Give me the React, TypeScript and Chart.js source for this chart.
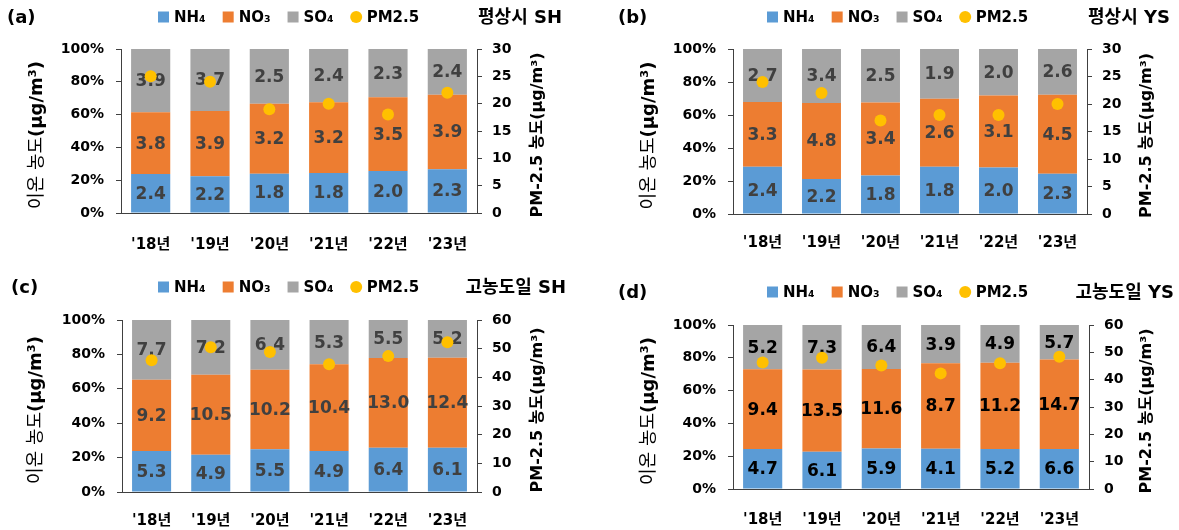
import { useEffect, useRef } from "react";
import { Chart, registerables } from "chart.js";

Chart.register(...registerables);

// ---- data ----
const YEARS = ["'18년", "'19년", "'20년", "'21년", "'22년", "'23년"];

// (a) 평상시 SH
const NH4_A = [2.4, 2.2, 1.8, 1.8, 2.0, 2.3];
const NO3_A = [3.8, 3.9, 3.2, 3.2, 3.5, 3.9];
const SO4_A = [3.9, 3.7, 2.5, 2.4, 2.3, 2.4];
const PM_A = [25.0, 24.0, 19.0, 20.0, 18.0, 22.0];

// (b) 평상시 YS
const NH4_B = [2.4, 2.2, 1.8, 1.8, 2.0, 2.3];
const NO3_B = [3.3, 4.8, 3.4, 2.6, 3.1, 4.5];
const SO4_B = [2.7, 3.4, 2.5, 1.9, 2.0, 2.6];
const PM_B = [24.0, 22.0, 17.0, 18.0, 18.0, 20.0];

// (c) 고농도일 SH
const NH4_C = [5.3, 4.9, 5.5, 4.9, 6.4, 6.1];
const NO3_C = [9.2, 10.5, 10.2, 10.4, 13.0, 12.4];
const SO4_C = [7.7, 7.2, 6.4, 5.3, 5.5, 5.2];
const PM_C = [46.0, 50.5, 48.8, 44.6, 47.4, 52.2];

// (d) 고농도일 YS
const NH4_D = [4.7, 6.1, 5.9, 4.1, 5.2, 6.6];
const NO3_D = [9.4, 13.5, 11.6, 8.7, 11.2, 14.7];
const SO4_D = [5.2, 7.3, 6.4, 3.9, 4.9, 5.7];
const PM_D = [46.3, 48.0, 45.2, 42.3, 46.0, 48.4];

const SERIES_NAMES = ["NH₄", "NO₃", "SO₄"];
const PM_NAME = "PM2.5";
// left axis title: word part in regular weight, unit part in bold
const LEFT_TITLE_WORD = "이온 농도";
const LEFT_TITLE_UNIT = "(μg/m³)";
const RIGHT_TITLE = "PM-2.5 농도(μg/m³)";

// ---- styling ----
const COLORS = ["#5B9BD5", "#ED7D31", "#A5A5A5"];
const PM_COLOR = "#FFC000";
const AXIS_COLOR = "#404040";
const FONT = '"DejaVu Sans", "Noto Sans CJK KR", sans-serif';

type Area = { left: number; right: number; top: number; bottom: number };

type Panel = {
  tag: string;
  title: string;
  nh4: number[];
  no3: number[];
  so4: number[];
  pm: number[];
  pmMax: number;
  pmStep: number;
  labelColor: string;
  x: number;
  y: number;
  width: number;
  height: number;
  area: Area;
  headerY: number;
  tagX: number;
  legendX: number;
  titleRight: number;
  leftTitleX: number;
  rightTitleX: number;
  xLabelPad: number;
};

const PANELS: Panel[] = [
  {
    tag: "(a)", title: "평상시 SH",
    nh4: NH4_A, no3: NO3_A, so4: SO4_A, pm: PM_A, pmMax: 30, pmStep: 5,
    labelColor: "#404040",
    x: 0, y: 0, width: 590, height: 265,
    area: { left: 121, right: 477, top: 49, bottom: 213 },
    headerY: 17, tagX: 7, legendX: 158, titleRight: 562,
    leftTitleX: 37, rightTitleX: 538, xLabelPad: 23,
  },
  {
    tag: "(b)", title: "평상시 YS",
    nh4: NH4_B, no3: NO3_B, so4: SO4_B, pm: PM_B, pmMax: 30, pmStep: 5,
    labelColor: "#404040",
    x: 590, y: 0, width: 589, height: 265,
    area: { left: 143, right: 497, top: 49, bottom: 214 },
    headerY: 17, tagX: 28, legendX: 177, titleRight: 580,
    leftTitleX: 59, rightTitleX: 557, xLabelPad: 20,
  },
  {
    tag: "(c)", title: "고농도일 SH",
    nh4: NH4_C, no3: NO3_C, so4: SO4_C, pm: PM_C, pmMax: 60, pmStep: 10,
    labelColor: "#404040",
    x: 0, y: 265, width: 590, height: 265,
    area: { left: 122, right: 477, top: 55, bottom: 227 },
    headerY: 22, tagX: 11, legendX: 158, titleRight: 566,
    leftTitleX: 36, rightTitleX: 538, xLabelPad: 20,
  },
  {
    tag: "(d)", title: "고농도일 YS",
    nh4: NH4_D, no3: NO3_D, so4: SO4_D, pm: PM_D, pmMax: 60, pmStep: 10,
    labelColor: "#000000",
    x: 590, y: 265, width: 589, height: 265,
    area: { left: 143, right: 499, top: 60, bottom: 224 },
    headerY: 27, tagX: 28, legendX: 177, titleRight: 584,
    leftTitleX: 59, rightTitleX: 557, xLabelPad: 22,
  },
];

const Y_LEFT_WIDTH = 72;
const Y_RIGHT_WIDTH = 42;

function shares(p: Panel, s: number[]): number[] {
  return s.map((v, i) => (v / (p.nh4[i] + p.no3[i] + p.so4[i])) * 100);
}

function font(size: number, weight = "bold") {
  return `${weight} ${size}px ${FONT}`;
}

// vertical text reading bottom-to-top, made of runs with their own fonts
function drawRotated(
  ctx: CanvasRenderingContext2D,
  runs: { text: string; font: string }[],
  cx: number,
  cy: number,
) {
  ctx.save();
  ctx.translate(cx, cy);
  ctx.rotate(-Math.PI / 2);
  ctx.fillStyle = "#000";
  ctx.textAlign = "left";
  ctx.textBaseline = "middle";
  const widths = runs.map((r) => {
    ctx.font = r.font;
    return ctx.measureText(r.text).width;
  });
  let x = -widths.reduce((a, b) => a + b, 0) / 2;
  runs.forEach((r, i) => {
    ctx.font = r.font;
    ctx.fillText(r.text, x, 0);
    x += widths[i];
  });
  ctx.restore();
}

function makePlugin(p: Panel) {
  const raw = [p.nh4, p.no3, p.so4];
  return {
    id: "panelDecor",
    // value labels go on the bars, under the PM2.5 markers
    beforeDatasetDraw(chart: any, args: any) {
      if (args.index !== 3) return;
      const ctx: CanvasRenderingContext2D = chart.ctx;
      ctx.save();
      ctx.font = font(17);
      ctx.fillStyle = p.labelColor;
      ctx.textAlign = "center";
      ctx.textBaseline = "middle";
      for (let d = 0; d < 3; d++) {
        const meta = chart.getDatasetMeta(d);
        meta.data.forEach((bar: any, i: number) => {
          const { x, y, base } = bar.getProps(["x", "y", "base"], true);
          ctx.fillText(raw[d][i].toFixed(1), x, (y + base) / 2 + 1);
        });
      }
      ctx.restore();
    },
    afterDraw(chart: any) {
      const ctx: CanvasRenderingContext2D = chart.ctx;
      const ca = chart.chartArea;
      ctx.save();
      // panel tag
      ctx.font = font(18);
      ctx.fillStyle = "#000";
      ctx.textAlign = "left";
      ctx.textBaseline = "middle";
      ctx.fillText(p.tag, p.tagX, p.headerY + 1);

      // legend
      let lx = p.legendX;
      const ly = p.headerY;
      ctx.font = font(15);
      const items = [
        ...SERIES_NAMES.map((n, i) => ({ name: n, color: COLORS[i], dot: false })),
        { name: PM_NAME, color: PM_COLOR, dot: true },
      ];
      items.forEach((it) => {
        ctx.fillStyle = it.color;
        if (it.dot) {
          ctx.beginPath();
          ctx.arc(lx + 5.5, ly, 6, 0, Math.PI * 2);
          ctx.fill();
        } else {
          ctx.fillRect(lx, ly - 5.5, 11, 11);
        }
        lx += 16;
        ctx.fillStyle = "#000";
        ctx.fillText(it.name, lx, ly + 1);
        lx += ctx.measureText(it.name).width + 17;
      });

      // panel title
      ctx.font = font(18);
      ctx.textAlign = "right";
      ctx.fillText(p.title, p.titleRight, p.headerY + 1);
      ctx.restore();

      // axis titles
      const cy = (ca.top + ca.bottom) / 2 + 4;
      drawRotated(
        ctx,
        [
          { text: LEFT_TITLE_WORD, font: font(18, "normal") },
          { text: LEFT_TITLE_UNIT, font: font(18) },
        ],
        p.leftTitleX,
        cy,
      );
      drawRotated(ctx, [{ text: RIGHT_TITLE, font: font(16) }], p.rightTitleX, cy);
    },
  };
}

function PanelChart({ p }: { p: Panel }) {
  const ref = useRef<HTMLCanvasElement | null>(null);

  useEffect(() => {
    if (!ref.current) return;
    const tickFont = { family: FONT, size: 14, weight: "bold" as const };
    const xHeight = p.height - p.area.bottom;
    const barCommon = {
      type: "bar" as const,
      yAxisID: "y",
      stack: "ions",
      order: 1,
      barPercentage: 0.66,
      categoryPercentage: 1,
      borderWidth: 0,
    };
    const chart = new Chart(ref.current, {
      type: "bar",
      data: {
        labels: YEARS,
        datasets: [
          { ...barCommon, label: SERIES_NAMES[0], data: shares(p, p.nh4), backgroundColor: COLORS[0] },
          { ...barCommon, label: SERIES_NAMES[1], data: shares(p, p.no3), backgroundColor: COLORS[1] },
          { ...barCommon, label: SERIES_NAMES[2], data: shares(p, p.so4), backgroundColor: COLORS[2] },
          {
            type: "line" as const,
            label: PM_NAME,
            data: p.pm,
            yAxisID: "y1",
            showLine: false,
            order: 0,
            pointRadius: 6,
            pointHoverRadius: 6,
            pointBackgroundColor: PM_COLOR,
            pointBorderColor: PM_COLOR,
            pointBorderWidth: 0,
          },
        ] as any,
      },
      options: {
        responsive: false,
        maintainAspectRatio: false,
        animation: false,
        devicePixelRatio: 1,
        layout: {
          padding: {
            left: p.area.left - Y_LEFT_WIDTH,
            right: p.width - p.area.right - Y_RIGHT_WIDTH,
            top: p.area.top,
            bottom: 0,
          },
        },
        plugins: {
          legend: { display: false },
          tooltip: { enabled: false },
        },
        scales: {
          x: {
            stacked: true,
            offset: true,
            grid: { display: false, drawTicks: false },
            border: { display: true, color: AXIS_COLOR, width: 1 },
            ticks: {
              color: "#000",
              font: { family: FONT, size: 15, weight: "bold" },
              padding: p.xLabelPad,
              maxRotation: 0,
              autoSkip: false,
            },
            afterFit: (s: any) => { s.height = xHeight; },
          },
          y: {
            position: "left",
            stacked: true,
            min: 0,
            max: 100,
            grid: { drawOnChartArea: false, drawTicks: true, tickLength: 5, color: AXIS_COLOR },
            border: { display: true, color: AXIS_COLOR, width: 1 },
            ticks: {
              stepSize: 20,
              color: "#000",
              font: tickFont,
              padding: 12,
              callback: (v: any) => `${v}%`,
            },
            afterFit: (s: any) => { s.width = Y_LEFT_WIDTH; },
          },
          y1: {
            position: "right",
            min: 0,
            max: p.pmMax,
            grid: { drawOnChartArea: false, drawTicks: true, tickLength: 5, color: AXIS_COLOR },
            border: { display: true, color: AXIS_COLOR, width: 1 },
            ticks: {
              stepSize: p.pmStep,
              color: "#000",
              font: tickFont,
              padding: 10,
            },
            afterFit: (s: any) => { s.width = Y_RIGHT_WIDTH; },
          },
        },
      } as any,
      plugins: [makePlugin(p)],
    });
    return () => chart.destroy();
  }, [p]);

  return (
    <canvas
      ref={ref}
      width={p.width}
      height={p.height}
      style={{ position: "absolute", left: p.x, top: p.y, width: p.width, height: p.height, display: "block" }}
    />
  );
}

export default function App() {
  return (
    <div style={{ position: "absolute", left: 0, top: 0, width: 1179, height: 530, background: "#fff", overflow: "hidden" }}>
      {PANELS.map((p) => (
        <PanelChart key={p.tag} p={p} />
      ))}
    </div>
  );
}
